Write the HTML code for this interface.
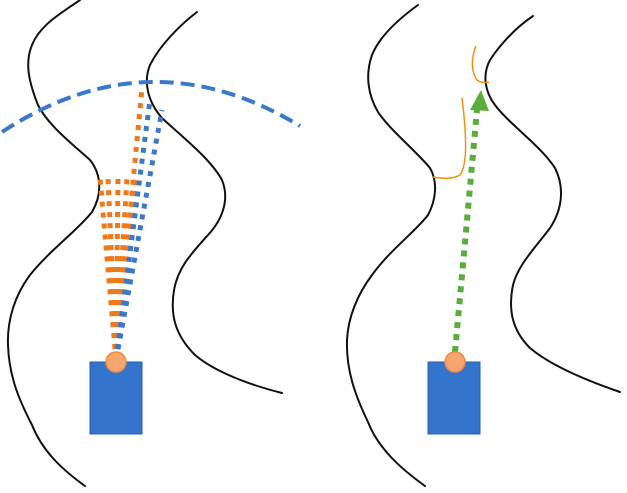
<!DOCTYPE html>
<html><head><meta charset="utf-8"><style>html,body{margin:0;padding:0;background:#fff}svg{display:block}</style></head>
<body>
<svg width="627" height="493" viewBox="0 0 627 493">
<g fill="none" stroke="#111" stroke-width="2" stroke-linecap="round" stroke-linejoin="round">
<path d="M80,0 C60,14 40,25 32,45 C25,62 28,80 38,105 C48,125 70,142 90,160 C102,175 102,195 92,212 C78,230 50,250 30,275 C15,295 7,320 8,345 C9,375 18,398 32,425 C42,450 60,468 85,486"/>
<path d="M197,12 C180,25 160,45 150,65 C143,82 148,102 162,118 C180,135 210,158 222,180 C230,200 222,220 208,235 C190,255 178,268 174,290 C170,315 175,335 195,355 C215,372 250,385 282,393"/>
<path d="M418,5 C400,18 380,35 372,55 C365,75 368,95 378,112 C390,130 415,150 430,168 C438,182 436,200 428,215 C415,232 390,250 372,275 C357,295 348,318 347,340 C346,370 355,395 368,422 C378,448 400,468 425,486"/>
<path d="M533,16 C515,28 500,45 490,60 C482,75 485,92 495,105 C510,125 540,145 555,168 C565,188 562,210 550,228 C535,248 518,265 513,285 C508,310 512,330 530,348 C550,365 585,380 620,392"/>
</g>
<path d="M2,132 Q150,35 300,126" fill="none" stroke="#3a78cc" stroke-width="4" stroke-dasharray="14,7"/>
<g fill="none" stroke="#f07818" stroke-width="5" stroke-dasharray="5,6">
<path d="M116,360 L100,178"/><path d="M116,360 L108,178"/><path d="M116,360 L118,178"/><path d="M116,360 L127,178"/><path d="M116,360 L135,178"/><path d="M116,360 L142,88"/>
</g>
<g fill="none" stroke="#3a78cc" stroke-width="5" stroke-dasharray="5,6">
<path d="M116,360 L150,100"/><path d="M116,360 L162,110"/>
</g>
<rect x="90" y="362" width="52" height="72" fill="#3474cc" stroke="#2a5ea8"/>
<circle cx="116" cy="362" r="10" fill="#f6a56e" stroke="#f08a40" stroke-width="1.5"/>
<path d="M455,352 L477,110" stroke="#5aad3a" stroke-width="6" stroke-dasharray="6,6" fill="none"/>
<polygon points="481,90 470,110 489,111" fill="#5aad3a"/>
<g fill="none" stroke="#f09010" stroke-width="1.5">
<path d="M462,98 C466,130 468,165 460,175 C452,180 440,178 432,177"/>
<path d="M476,46 C471,58 471,72 477,80 C481,83 486,83 489,82"/>
</g>
<rect x="428" y="362" width="52" height="72" fill="#3474cc" stroke="#2a5ea8"/>
<circle cx="455" cy="362" r="10" fill="#f6a56e" stroke="#f08a40" stroke-width="1.5"/>
</svg>
</body></html>
